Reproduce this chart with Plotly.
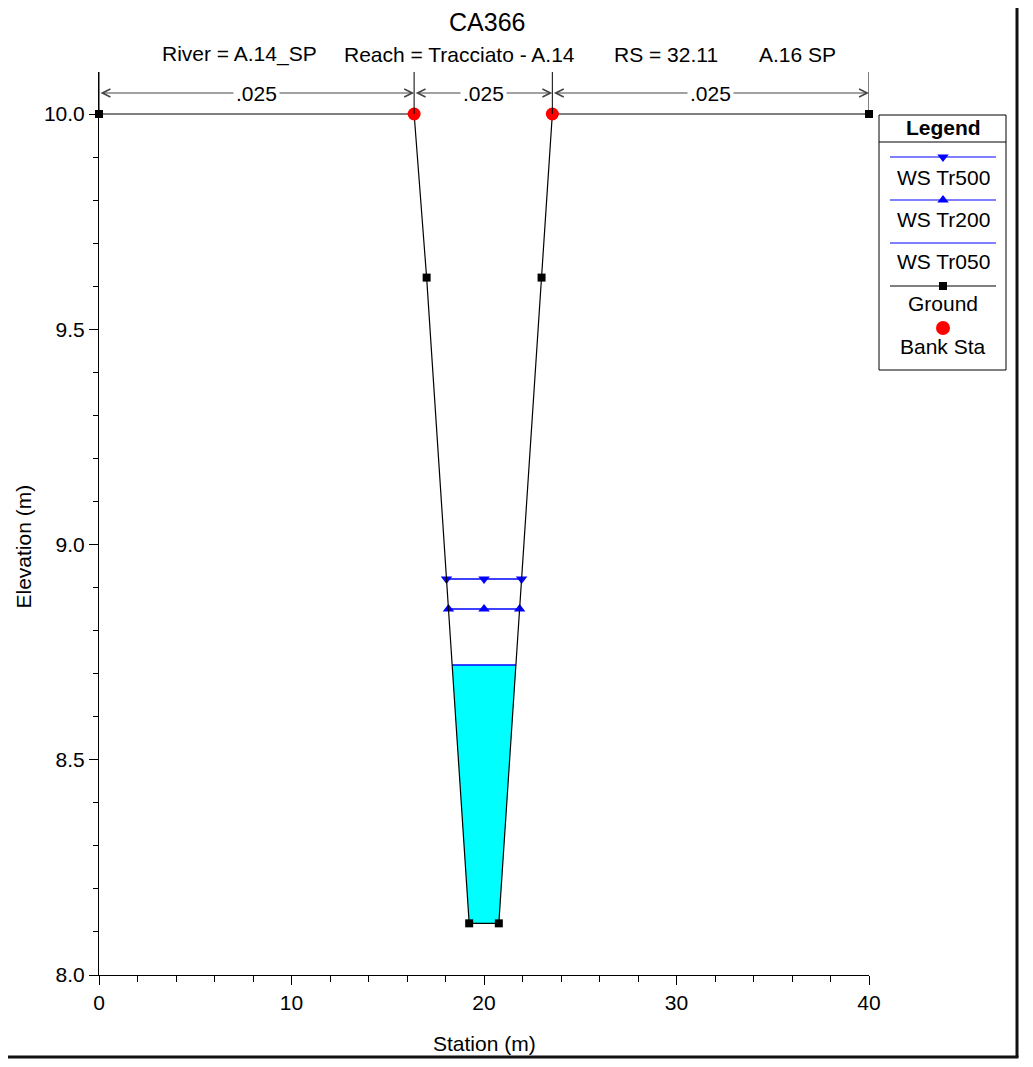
import numpy as np
import plotly.graph_objects as go

# page/window size and the browser's default body margin
WIN_W, WIN_H = 1033, 1067
OFF = 8
W, H = WIN_W - 2 * OFF, WIN_H - 2 * OFF

# ---------------- data ----------------
ground_sta = [0.0, 16.37, 17.02, 19.23, 20.77, 22.99, 23.55, 40.0]
ground_elev = [10.0, 10.0, 9.62, 8.12, 8.12, 9.62, 10.0, 10.0]
bank_sta = [16.37, 23.55]
bank_elev = [10.0, 10.0]
ws_names = ["WS Tr500", "WS Tr200", "WS Tr050"]
ws_elev = [8.92, 8.85, 8.72]
n_values = [".025", ".025", ".025"]
n_bounds = [0.0, 16.37, 23.55, 40.0]
x_ticks = [0, 10, 20, 30, 40]
y_ticks = [8.0, 8.5, 9.0, 9.5, 10.0]

FONT = "Liberation Sans, Arial, sans-serif"
FS = 21


# page-pixel -> paper helpers
def fx(px):
    return (px - OFF) / W


def fy(py):
    return 1 - (py - OFF) / H


X0, X1 = 99, 869      # plot left/right px
Y0, Y1 = 72, 975      # plot top/bottom px
PX_PER_M = (975 - 114) / 2.0
y_top = 8.0 + (Y1 - Y0) / PX_PER_M
n_line_elev = 10.0 + (114 - 93) / PX_PER_M


def ws_extent(elev):
    s = np.array(ground_sta)
    z = np.array(ground_elev)
    i0 = int(np.argmin(z))
    left = right = None
    li = ri = i0
    for i in range(i0, 0, -1):
        if z[i - 1] >= elev >= z[i]:
            left = s[i] + (elev - z[i]) / (z[i - 1] - z[i]) * (s[i - 1] - s[i])
            li = i
            break
    for i in range(i0, len(s) - 1):
        if z[i + 1] >= elev >= z[i]:
            right = s[i] + (elev - z[i]) / (z[i + 1] - z[i]) * (s[i + 1] - s[i])
            ri = i
            break
    inner_s = list(s[li:ri + 1])
    inner_z = list(z[li:ri + 1])
    return left, right, inner_s, inner_z


fig = go.Figure()

# water fill for the lowest profile
l50, r50, ins, inz = ws_extent(ws_elev[2])
fig.add_trace(go.Scatter(
    x=[l50] + ins + [r50, l50], y=[ws_elev[2]] + inz + [ws_elev[2], ws_elev[2]],
    mode="lines", fill="toself", fillcolor="#00FFFF", line=dict(width=0),
    hoverinfo="skip", showlegend=False))

ws_symbols = ["triangle-down", "triangle-up", None]
for name, elev, sym in zip(ws_names[::-1], ws_elev[::-1], ws_symbols[::-1]):
    l, r, _, _ = ws_extent(elev)
    xs = [l, (l + r) / 2, r]
    if sym is None:
        fig.add_trace(go.Scatter(x=[l, r], y=[elev, elev], mode="lines",
                                 line=dict(color="#0000FF", width=1.5),
                                 name=name, showlegend=False))
    else:
        fig.add_trace(go.Scatter(x=xs, y=[elev] * 3, mode="lines+markers",
                                 line=dict(color="#0000FF", width=1.5),
                                 marker=dict(symbol=sym, size=10, color="#0000FF"),
                                 name=name, showlegend=False))

fig.add_trace(go.Scatter(x=ground_sta, y=ground_elev, mode="lines+markers",
                         line=dict(color="black", width=1.2),
                         marker=dict(symbol="square", size=8, color="black"),
                         cliponaxis=False, name="Ground", showlegend=False))
fig.add_trace(go.Scatter(x=bank_sta, y=bank_elev, mode="markers",
                         marker=dict(symbol="circle", size=13, color="#FF0000"),
                         cliponaxis=False, name="Bank Sta", showlegend=False))

shapes = []
annotations = []

# Manning's n brackets
for b in n_bounds:
    shapes.append(dict(type="line", xref="x", yref="y", x0=b, x1=b, y0=10.0, y1=y_top,
                       line=dict(color="black", width=1)))
for a, b, nv in zip(n_bounds[:-1], n_bounds[1:], n_values):
    annotations.append(dict(x=b, y=n_line_elev, ax=a, ay=n_line_elev,
                            xref="x", yref="y", axref="x", ayref="y", text="",
                            showarrow=True, arrowhead=5, startarrowhead=5,
                            arrowside="end+start", arrowsize=1.6, startarrowsize=1.6,
                            arrowwidth=1, arrowcolor="#444444", standoff=0, startstandoff=0))
    annotations.append(dict(x=(a + b) / 2, y=n_line_elev, xref="x", yref="y", text=nv,
                            showarrow=False, bgcolor="white", borderpad=2,
                            font=dict(size=FS, color="black", family=FONT)))

# titles
annotations.append(dict(x=fx(487), y=fy(22), xref="paper", yref="paper", text="CA366",
                        showarrow=False, xanchor="center", yanchor="middle",
                        font=dict(size=25, color="black", family=FONT)))
sub_parts = [("River = A.14_SP", 160), ("Reach = Tracciato - A.14", 342),
             ("RS = 32.11", 612), ("A.16 SP", 757)]
for txt, px in sub_parts:
    annotations.append(dict(x=fx(px), y=fy(54), xref="paper", yref="paper", text=txt,
                            showarrow=False, xanchor="left", yanchor="middle",
                            font=dict(size=FS, color="black", family=FONT)))
annotations.append(dict(x=fx(484), y=fy(1043), xref="paper", yref="paper", text="Station (m)",
                        showarrow=False, xanchor="center", yanchor="middle",
                        font=dict(size=FS, color="black", family=FONT)))
annotations.append(dict(x=fx(9), y=fy(547), xref="paper", yref="paper", text="Elevation (m)",
                        showarrow=False, xanchor="left", yanchor="middle", textangle=-90,
                        font=dict(size=FS, color="black", family=FONT)))

# legend (drawn in its own pixel-scaled axes)
LX0, LX1, LY0, LY1 = 879, 1006, 115, 370
shapes.append(dict(type="rect", xref="paper", yref="paper", x0=fx(LX0), x1=fx(LX1),
                   y0=fy(LY0), y1=fy(LY1), line=dict(color="black", width=1),
                   fillcolor="white", layer="below"))
shapes.append(dict(type="line", xref="paper", yref="paper", x0=fx(LX0), x1=fx(LX1),
                   y0=fy(142), y1=fy(142), line=dict(color="black", width=1)))
annotations.append(dict(x=943, y=128, xref="x2", yref="y2", text="<b>Legend</b>",
                        showarrow=False, font=dict(size=FS, color="black", family=FONT)))

legend_items = [
    ("WS Tr500", "#0000FF", "triangle-down", 10, True, 157, 178),
    ("WS Tr200", "#0000FF", "triangle-up", 10, True, 200, 220),
    ("WS Tr050", "#0000FF", None, 0, True, 243, 262),
    ("Ground", "black", "square", 8, True, 286, 304),
    ("Bank Sta", "#FF0000", "circle", 14, False, 328, 347),
]
for lab, col, sym, sz, has_line, ly, ty in legend_items:
    if has_line:
        fig.add_trace(go.Scatter(x=[890, 996], y=[ly, ly], mode="lines",
                                 line=dict(color=col, width=1.2), xaxis="x2", yaxis="y2",
                                 hoverinfo="skip", showlegend=False))
    if sym is not None:
        fig.add_trace(go.Scatter(x=[943], y=[ly], mode="markers",
                                 marker=dict(symbol=sym, size=sz, color=col),
                                 xaxis="x2", yaxis="y2", cliponaxis=False,
                                 hoverinfo="skip", showlegend=False))
    annotations.append(dict(x=943, y=ty, xref="x2", yref="y2", text=lab, showarrow=False,
                            font=dict(size=FS, color="black", family=FONT)))

# outer frame (right and bottom edges visible)
shapes.append(dict(type="line", xref="paper", yref="paper", x0=fx(1017), x1=fx(1017),
                   y0=fy(0), y1=fy(1057), line=dict(color="#111111", width=3)))
shapes.append(dict(type="line", xref="paper", yref="paper", x0=fx(0), x1=fx(1018.5),
                   y0=fy(1057), y1=fy(1057), line=dict(color="#111111", width=3)))

fig.update_layout(
    width=W, height=H,
    margin=dict(l=0, r=0, t=0, b=0, autoexpand=False),
    paper_bgcolor="white", plot_bgcolor="rgba(0,0,0,0)",
    font=dict(family=FONT, size=FS, color="black"),
    showlegend=False,
    shapes=shapes, annotations=annotations,
    xaxis=dict(domain=[fx(X0), fx(X1)], range=[0, 40], tickvals=x_ticks,
               ticktext=[str(v) for v in x_ticks], automargin=False,
               ticks="outside", ticklen=9, tickcolor="black", tickwidth=1,
               showline=True, linecolor="black", linewidth=1,
               showgrid=False, zeroline=False, anchor="y",
               tickfont=dict(size=FS, color="black", family=FONT),
               minor=dict(tick0=0, dtick=2, ticks="outside", ticklen=6,
                          tickcolor="black", tickwidth=1, showgrid=False)),
    yaxis=dict(domain=[fy(Y1), fy(Y0)], range=[8.0, y_top], tickvals=y_ticks,
               ticktext=["%.1f" % v for v in y_ticks], automargin=False,
               ticks="outside", ticklen=9, tickcolor="black", tickwidth=1,
               showline=True, linecolor="black", linewidth=1,
               showgrid=False, zeroline=False, anchor="x",
               tickfont=dict(size=FS, color="black", family=FONT),
               minor=dict(tick0=8.0, dtick=0.1, ticks="outside", ticklen=5,
                          tickcolor="black", tickwidth=1, showgrid=False)),
    xaxis2=dict(domain=[fx(LX0), fx(LX1)], range=[LX0, LX1], visible=False,
                anchor="y2", automargin=False),
    yaxis2=dict(domain=[fy(LY1), fy(LY0)], range=[LY1, LY0], visible=False,
                anchor="x2", automargin=False),
)

fig.write_html("out.html")
